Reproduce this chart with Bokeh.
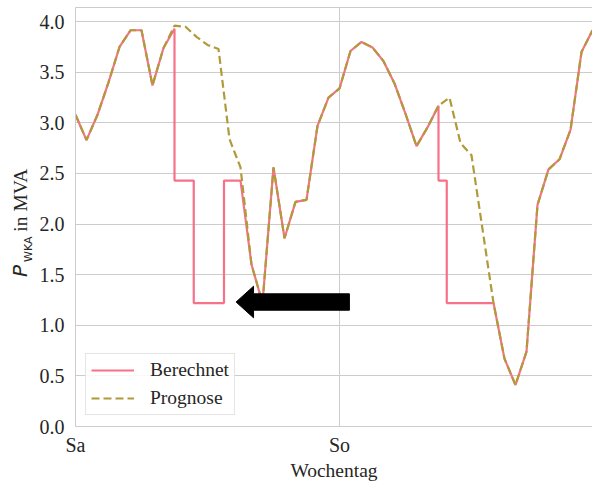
from bokeh.plotting import figure
from bokeh.models import (Range1d, FixedTicker, Legend, LegendItem, LinearAxis,
                          PolyAnnotation, NumeralTickFormatter, Div)
from bokeh.layouts import row
from bokeh.embed import file_html
from bokeh.resources import INLINE

# ---------------- data ----------------
HOURS = list(range(48))
PROGNOSE = [3.08, 2.83, 3.08, 3.40, 3.75, 3.915, 3.915, 3.37, 3.74, 3.96,
            3.95, 3.85, 3.77, 3.73, 2.84, 2.56, 1.60, 1.22, 2.56, 1.86,
            2.22, 2.24, 2.97, 3.25, 3.34, 3.71, 3.80, 3.745, 3.61, 3.39,
            3.09, 2.77, 2.955, 3.17, 3.25, 2.80, 2.68, 1.95, 1.22, 0.67,
            0.41, 0.74, 2.19, 2.54, 2.64, 2.93, 3.70, 3.915]

BERECHNET_X = [0, 1, 2, 3, 4, 5, 6, 7, 8, 9,
               9, 10.75, 10.75, 13.5, 13.5, 15,
               16, 17, 18, 19, 20, 21, 22, 23, 24, 25, 26, 27, 28, 29, 30, 31, 32, 33,
               33, 33.75, 33.75, 38,
               39, 40, 41, 42, 43, 44, 45, 46, 47]
BERECHNET = [3.08, 2.83, 3.08, 3.40, 3.75, 3.915, 3.915, 3.37, 3.74, 3.93,
             2.43, 2.43, 1.22, 1.22, 2.43, 2.43,
             1.60, 1.22, 2.56, 1.86, 2.22, 2.24, 2.97, 3.25, 3.34, 3.71, 3.80, 3.745,
             3.61, 3.39, 3.09, 2.77, 2.955, 3.17,
             2.43, 2.43, 1.22, 1.22,
             0.67, 0.41, 0.74, 2.19, 2.54, 2.64, 2.93, 3.70, 3.915]

DAY_TICKS = [0, 24]
DAY_LABELS = ["Sa", "So"]
Y_TICKS = [0.0, 0.5, 1.0, 1.5, 2.0, 2.5, 3.0, 3.5, 4.0]

# ---------------- style ----------------
PINK = "#f77189"
OLIVE = "#b09a3a"
GRID = "#cccccc"
TEXT = "#262626"
SERIF = "Liberation Serif"

X_MAX, Y_MAX = 47, 4.14
DIV_W = 36
W, H = 592 - DIV_W, 483
BL, BR, BT, BB = 37, 0, 7, 52
FRAME_W, FRAME_H = W - BL - BR, H - BT - BB
PX_X = FRAME_W / X_MAX
PX_Y = FRAME_H / Y_MAX

p = figure(width=W, height=H, output_backend="svg", toolbar_location=None,
           x_range=Range1d(0, X_MAX), y_range=Range1d(0, Y_MAX),
           min_border_left=BL, min_border_right=BR, min_border_top=BT,
           min_border_bottom=BB)
p.outline_line_color = None
p.background_fill_color = "white"

# axes
for ax in (p.xaxis[0], p.yaxis[0]):
    ax.axis_line_color = GRID
    ax.axis_line_width = 1
    ax.major_tick_line_color = None
    ax.minor_tick_line_color = None
    ax.major_tick_out = 0
    ax.major_tick_in = 0
    ax.major_label_text_font = SERIF
    ax.major_label_text_font_size = "20px"
    ax.major_label_text_color = TEXT

p.xaxis.ticker = FixedTicker(ticks=DAY_TICKS)
p.xaxis.major_label_overrides = dict(zip(DAY_TICKS, DAY_LABELS))
p.xaxis.major_label_standoff = 7
p.xaxis.axis_label = "Wochentag"
p.xaxis.axis_label_text_font = SERIF
p.xaxis.axis_label_text_font_size = "19.5px"
p.xaxis.axis_label_text_font_style = "normal"
p.xaxis.axis_label_text_color = TEXT
p.xaxis.axis_label_standoff = 1
p.yaxis.ticker = FixedTicker(ticks=Y_TICKS)
p.yaxis.formatter = NumeralTickFormatter(format="0.0")
p.yaxis.major_label_standoff = 11

# top spine
top = LinearAxis(ticker=FixedTicker(ticks=[]), axis_line_color=GRID,
                 major_tick_line_color=None, minor_tick_line_color=None,
                 major_tick_out=0, major_tick_in=0, major_label_standoff=0,
                 major_label_text_font_size="0px")
p.add_layout(top, "above")

p.xgrid.ticker = FixedTicker(ticks=DAY_TICKS)
p.ygrid.ticker = FixedTicker(ticks=Y_TICKS)
for g in (p.xgrid[0], p.ygrid[0]):
    g.grid_line_color = GRID
    g.grid_line_width = 1

# lines
r_ber = p.line(BERECHNET_X, BERECHNET, line_color=PINK, line_width=2.2)
r_pro = p.line(HOURS, PROGNOSE, line_color=OLIVE, line_width=2.2, line_dash="8 4")

legend = Legend(items=[LegendItem(label="Berechnet", renderers=[r_ber]),
                       LegendItem(label="Prognose", renderers=[r_pro])],
                location=(10, 11))
legend.border_line_color = GRID
legend.border_line_width = 1
legend.background_fill_color = "white"
legend.background_fill_alpha = 0.85
legend.label_text_font = SERIF
legend.label_text_font_size = "19.5px"
legend.label_text_color = TEXT
legend.glyph_width = 43
legend.glyph_height = 20
legend.label_height = 20
legend.label_standoff = 16
legend.padding = 5
legend.spacing = 6
legend.margin = 0
p.add_layout(legend)

# arrow annotation
ARROW_TIP_X, ARROW_Y, ARROW_TAIL_X = 14.6, 1.23, 24.9
HEAD_LEN_PX, HEAD_HALF_PX, BODY_HALF_PX = 17.5, 16.0, 8.3
hx = ARROW_TIP_X + HEAD_LEN_PX / PX_X
hh = HEAD_HALF_PX / PX_Y
bh = BODY_HALF_PX / PX_Y
arrow = PolyAnnotation(
    xs=[ARROW_TIP_X, hx, hx, ARROW_TAIL_X, ARROW_TAIL_X, hx, hx],
    ys=[ARROW_Y, ARROW_Y + hh, ARROW_Y + bh, ARROW_Y + bh, ARROW_Y - bh, ARROW_Y - bh, ARROW_Y - hh],
    fill_color="black", fill_alpha=1.0, line_color="black", line_alpha=1.0, line_width=1)
p.add_layout(arrow)

# y axis label (italic P with subscript) as rotated HTML text
YLABEL_HTML = (
    '<div style="position:absolute; left:10px; top:277px; transform-origin:0 0; '
    'transform:rotate(-90deg); white-space:nowrap; line-height:1; '
    "font-family:'Liberation Serif'; font-size:19.5px; color:#262626;\">"
    "<span style=\"font-family:'DejaVu Sans'; font-style:italic; font-size:20px; margin-right:3px;\">P</span>"
    "<span style=\"font-family:'DejaVu Sans'; font-size:11px; position:relative; top:5px;\">WKA</span>"
    " in MVA</div>"
)
ylabel = Div(text=YLABEL_HTML, width=DIV_W, height=H, margin=0)

layout = row(ylabel, p, spacing=0)
open("out.html", "w").write(file_html(layout, INLINE))
